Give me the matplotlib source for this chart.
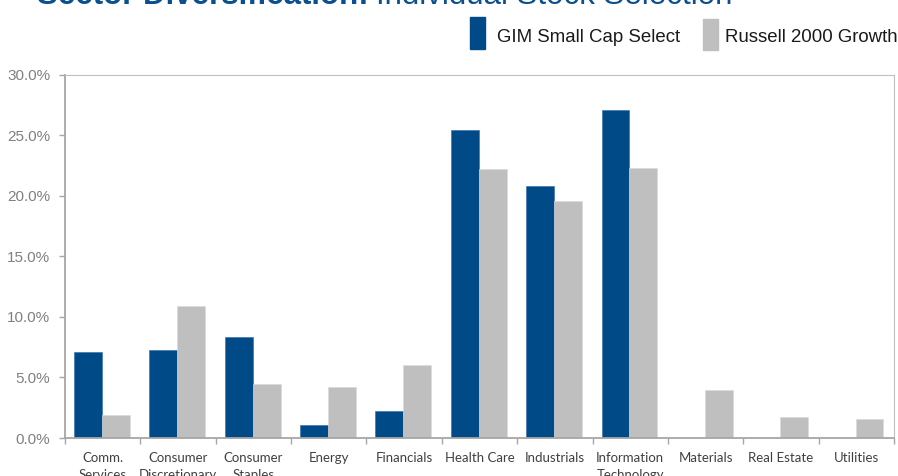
#!/usr/bin/env python3

import numpy as np
import matplotlib
matplotlib.use("Agg")
import matplotlib.pyplot as plt
from matplotlib.patches import Rectangle
from matplotlib.ticker import FuncFormatter, FixedLocator


categories = ["Comm.\nServices", "Consumer\nDiscretionary", "Consumer\nStaples",
              "Energy", "Financials", "Health Care", "Industrials",
              "Information\nTechnology", "Materials", "Real Estate", "Utilities"]
gim_small_cap = [7.1, 7.25, 8.3, 1.07, 2.2, 25.4, 20.8, 27.1, 0.0, 0.0, 0.0]
russell_2000g = [1.9, 10.9, 4.45, 4.2, 6.0, 22.2, 19.55, 22.3, 4.0, 1.75, 1.55]
series_names = ["GIM Small Cap Select", "Russell 2000 Growth"]

BLUE = "#004A87"
GRAY = "#BFBFBF"
W, H = 898, 476


def main():
    fig = plt.figure(figsize=(W / 100, H / 100), dpi=100)
    ax = fig.add_axes([65 / W, 1 - 438 / H, (894 - 65) / W, (438 - 74.5) / H])

    x = np.arange(len(categories))
    bw = 0.37
    ax.bar(x - 0.38, gim_small_cap, width=bw, align="edge", color=BLUE,
           edgecolor="#2E6BA8", linewidth=0.4)
    ax.bar(x - 0.01, russell_2000g, width=bw, align="edge", color=GRAY,
           edgecolor="#D9D9D9", linewidth=0.4)

    ax.set_xlim(-0.5, len(categories) - 0.5)
    ax.set_ylim(0, 30)
    ax.yaxis.set_major_locator(FixedLocator(np.arange(0, 31, 5)))
    ax.yaxis.set_major_formatter(FuncFormatter(lambda v, p: "%.1f%%" % v))
    ax.tick_params(axis="y", length=4.5, width=1, color="#A6A6A6",
                   labelcolor="#808080", labelsize=11, pad=6)
    for lab in ax.get_yticklabels():
        lab.set_fontfamily("Liberation Sans")

    ax.set_xticks(x)
    ax.set_xticklabels(categories, fontfamily="Lato", fontsize=9.5,
                       color="#404040", linespacing=1.5)
    ax.set_xticks(np.arange(-0.5, len(categories), 1.0), minor=True)
    ax.tick_params(axis="x", which="major", length=0, pad=10)
    ax.tick_params(axis="x", which="minor", length=4.5, width=1, color="#A6A6A6")

    ax.spines["left"].set_color("#A6A6A6")
    ax.spines["left"].set_linewidth(1.3)
    ax.spines["bottom"].set_color("#A6A6A6")
    ax.spines["bottom"].set_linewidth(1.3)
    ax.spines["top"].set_color("#BFBFBF")
    ax.spines["right"].set_color("#BFBFBF")

    # legend drawn by hand: tall narrow swatches
    fig.patches.append(Rectangle((470 / W, 1 - 49 / H), 15 / W, 32 / H,
                                 transform=fig.transFigure, color=BLUE))
    fig.text(497 / W, 1 - 37 / H, series_names[0], fontfamily="Liberation Sans",
             fontsize=13.4, color="#1A1A1A", va="center", ha="left")
    fig.patches.append(Rectangle((703 / W, 1 - 50 / H), 15 / W, 31 / H,
                                 transform=fig.transFigure, color=GRAY))
    fig.text(725 / W, 1 - 37 / H, series_names[1], fontfamily="Liberation Sans",
             fontsize=13.4, color="#1A1A1A", va="center", ha="left")

    # title, mostly cropped above the picture (as in the source slide)
    t1 = fig.text(37 / W, 1 - 4.5 / H, "Sector Diversification:", fontfamily="Liberation Sans",
                  fontsize=22.5, fontweight="bold", color="#0B4F8E", va="baseline")
    fig.canvas.draw()
    bb = t1.get_window_extent()
    fig.text((bb.x1 + 7) / W, 1 - 4.5 / H, "Individual Stock Selection",
             fontfamily="Liberation Sans", fontsize=22.5, color="#0B4F8E", va="baseline")

    fig.savefig("out.png", dpi=100)


if __name__ == '__main__':
    main()
#
